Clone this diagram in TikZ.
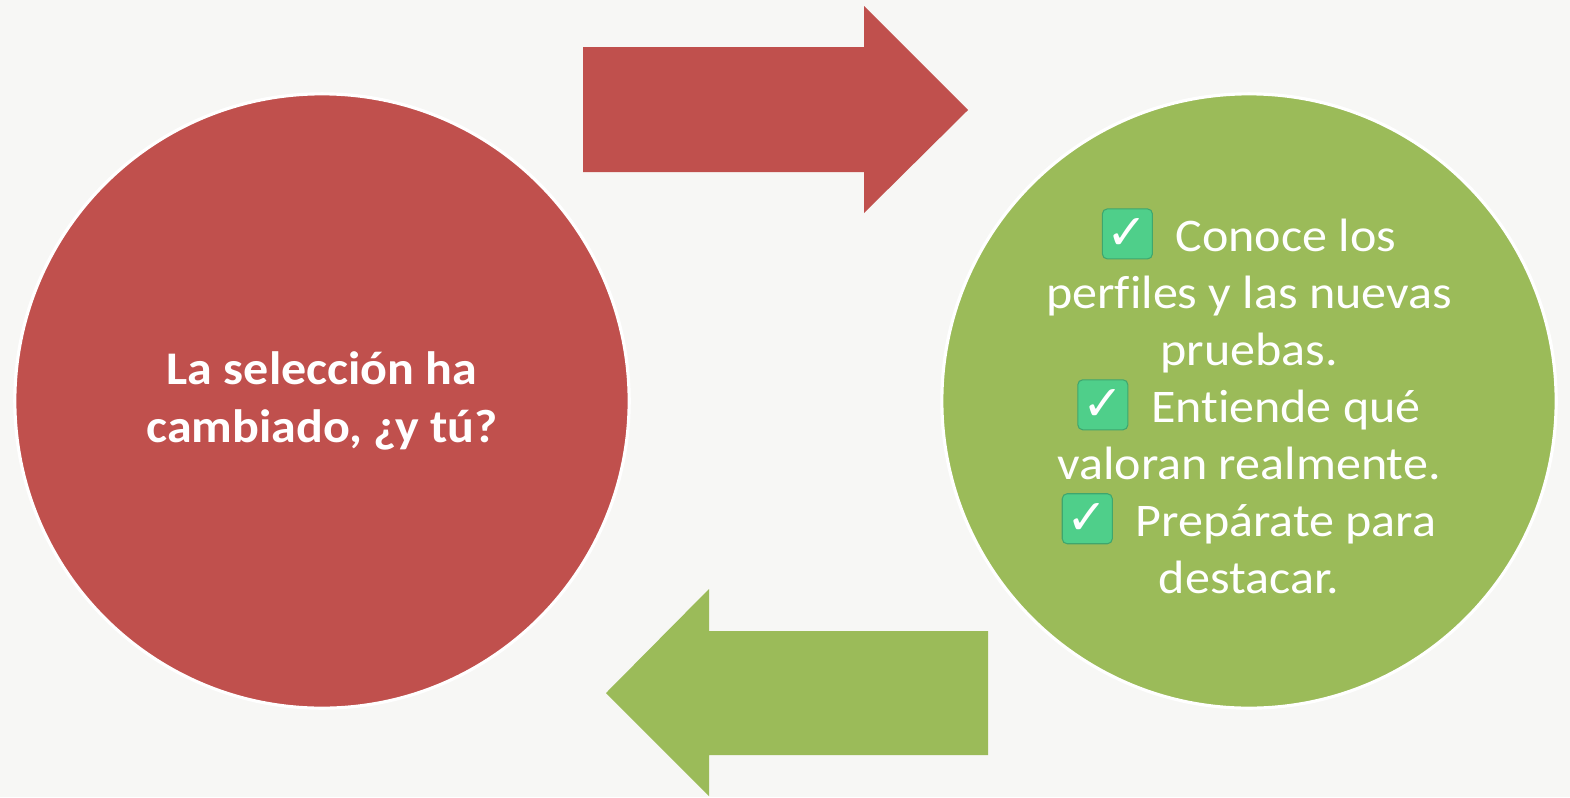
\documentclass[tikz,border=0pt]{standalone}
\usepackage{fontspec}
\setmainfont{Carlito}[FakeStretch=1.07, Ligatures=NoCommon]
\newfontfamily\checkfont{DejaVu Sans}
\usetikzlibrary{positioning}
\definecolor{bggray}{HTML}{F7F7F5}
\definecolor{selred}{HTML}{C0504D}
\definecolor{selgreen}{HTML}{9BBB59}
\definecolor{checkgreen}{HTML}{4FCF8A}
\tikzset{chkbox/.style={rectangle, fill=checkgreen, draw=checkgreen!80!black, line width=0.3pt, rounded corners=1.4pt,
    minimum size=0.5cm, inner sep=0pt, text=white, font=\checkfont\bfseries\fontsize{14}{14}\selectfont}}
\newcommand{\chk}{\tikz[baseline=-5pt]\node[chkbox] (box) {✓};}

\begin{document}
\begin{tikzpicture}[x=0.01cm, y=-0.01cm, semithick,
    bubble/.style={circle, draw=white, line width=0.9pt, minimum size=6.14cm, inner sep=0pt,
        text=white, align=center, font=\fontsize{13.3}{16.2}\selectfont}]
    \fill[bggray] (0,0) rectangle (1570,797);
    \node[bubble, fill=selred, font=\fontsize{13.3}{16.4}\selectfont\bfseries] (1) at (322,401)
        {La selección ha\\cambiado, ¿y tú?};
    \node[bubble, fill=selgreen] (2) at (1249,401)
        {\chk\ \ Conoce los\\perfiles y las nuevas\\pruebas.\\
         \chk\ \ Entiende qué\\valoran realmente.\\
         \chk\ \ Prepárate para\\destacar.};
    \fill[selred] (583,47) -- (864,47) -- (864,6) -- (968,110) -- (864,213) -- (864,172) -- (583,172) -- cycle;
    \fill[selgreen] (988,631) -- (709,631) -- (709,589) -- (606,693) -- (709,796) -- (709,755) -- (988,755) -- cycle;
\end{tikzpicture}
\end{document}
